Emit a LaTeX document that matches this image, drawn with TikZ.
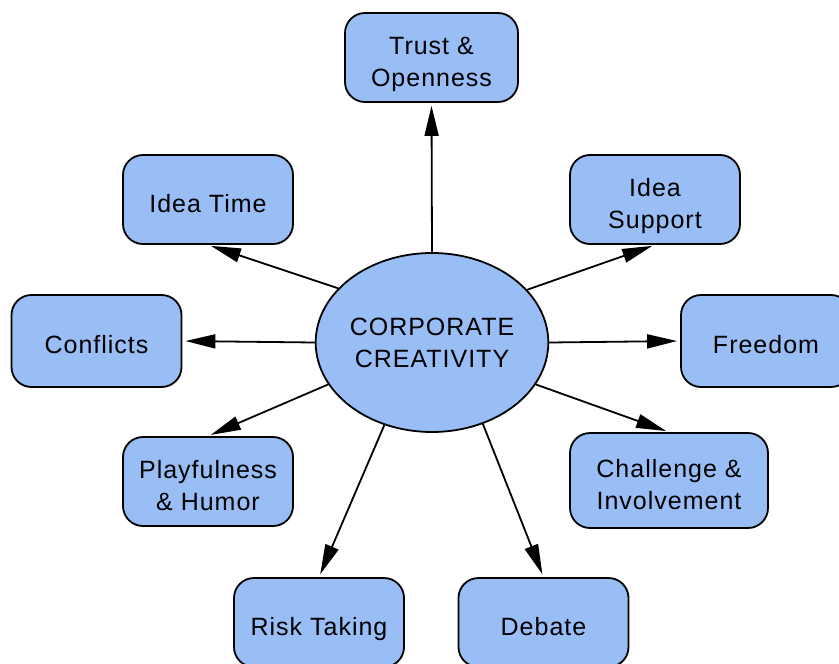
\documentclass[tikz,border=0pt]{standalone}
\usepackage{fontspec}
\setmainfont{Liberation Sans}[LetterSpace=4]
\usetikzlibrary{shapes.geometric,arrows.meta}
\definecolor{boxblue}{RGB}{153,189,245}
% box label: centred lines, set a little below the middle of the box
\newcommand{\boxtext}[1]{\raisebox{-6.5pt}[\height][\depth]{\begin{tabular}{@{}c@{}}#1\end{tabular}}}
\begin{document}
\begin{tikzpicture}[x=1pt,y=-1pt,
  factor/.style={draw=black, line width=1.8pt, fill=boxblue, rounded corners=20pt,
    minimum width=170pt, minimum height=89pt, inner sep=0pt,
    font=\fontsize{25}{32}\selectfont},
  core/.style={ellipse, draw=black, line width=1.8pt, fill=boxblue,
    minimum width=228pt, minimum height=179pt, inner sep=0pt, align=center,
    font=\fontsize{25}{32}\selectfont},
  link/.style={-{Triangle[length=30pt,width=14pt]}, line width=1.8pt, shorten >=3pt}
]
\useasboundingbox (0,0) rectangle (839,664);

% central concept
\node[core] (c) at (432,342.5) {CORPORATE\\CREATIVITY};

% surrounding factors
\node[factor, minimum width=173pt] (trust) at (431.5,57.5) {\boxtext{Trust \&\\Openness}};
\node[factor] (ideatime) at (208,199.5) {\boxtext{Idea Time}};
\node[factor] (support) at (655,199.5) {\boxtext{Idea\\Support}};
\node[factor, minimum height=92pt] (conflicts) at (96.5,341) {\boxtext{Conflicts}};
\node[factor, minimum height=92pt] (freedom) at (766,341) {\boxtext{Freedom}};
\node[factor] (play) at (208,481.5) {\boxtext{Playfulness\\\& Humor}};
\node[factor, minimum width=198pt, minimum height=95pt] (challenge) at (669,480.5) {\boxtext{Challenge \&\\Involvement}};
\node[factor] (risk) at (319,622.5) {\boxtext{Risk Taking}};
\node[factor] (debate) at (543.5,622.5) {\boxtext{Debate}};

% connectors
\draw[link] (c.north) -- (trust.south);
\draw[link] (c.150) -- (ideatime.south);
\draw[link] (c.29) -- (support.south);
\draw[link] (c.west) -- (conflicts.east);
\draw[link] (c.east) -- (freedom.west);
\draw[link] (c.202) -- (play.north);
\draw[link] (c.338.5) -- (challenge.north);
\draw[link] (c.240) -- (risk.north);
\draw[link] (c.302) -- (debate.north);
\end{tikzpicture}
\end{document}
